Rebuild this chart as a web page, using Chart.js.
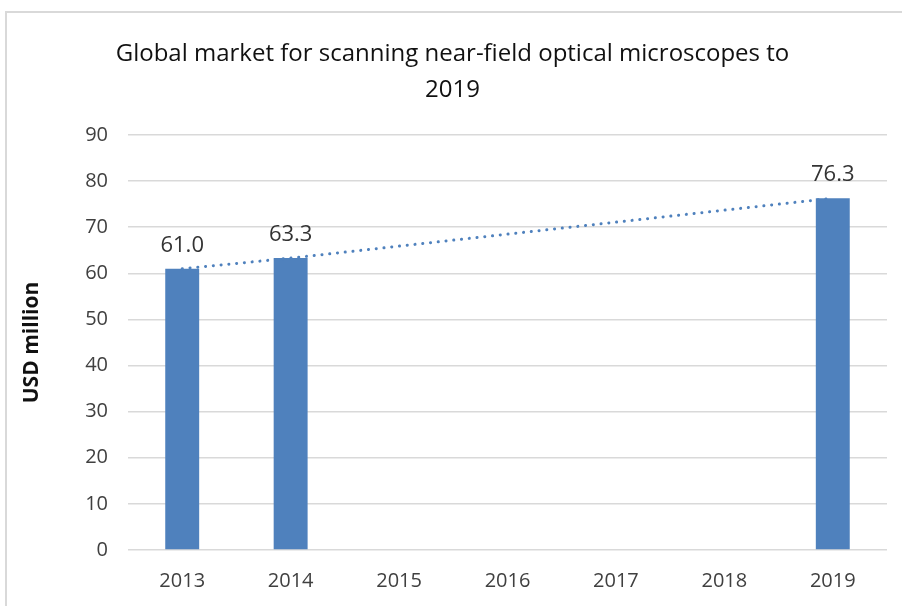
<!DOCTYPE html>
<html>
<head>
<meta charset="utf-8">
<script src="https://cdn.jsdelivr.net/npm/chart.js@4.4.1/dist/chart.umd.min.js"></script>
<style>
    html, body { margin: 0; padding: 0; background: #fff; overflow: hidden; }
    #wrap { position: relative; width: 902px; height: 606px; }
    #frame {
        position: absolute; left: 5px; top: 11px; width: 920px; height: 620px;
        border-left: 2px solid #d9d9d9; border-top: 2px solid #d9d9d9;
    }
    canvas { position: absolute; left: 0; top: 0; }
</style>
</head>
<body>
<div id="wrap">
    <div id="frame"></div>
    <canvas id="myChart" width="902" height="606"></canvas>
</div>
<script>
const years = ['2013', '2014', '2015', '2016', '2017', '2018', '2019'];
const marketValues = [61.0, 63.3, null, null, null, null, 76.3];
const trendValues = [61.0, 63.3, null, null, null, null, 76.3];
const yTicks = [0, 10, 20, 30, 40, 50, 60, 70, 80, 90];

const chartTitle = ['Global market for scanning near-field optical microscopes to', '2019'];
const yTitle = 'USD million';

const FONT = "'Open Sans', 'Liberation Sans', sans-serif";
const BLUE = '#4f81bd';
const TEXT = '#404040';

// etiquetas de valor encima de cada barra
const barLabels = {
    id: 'barLabels',
    afterDatasetsDraw(chart) {
        const ctx = chart.ctx;
        const meta = chart.getDatasetMeta(0);
        ctx.save();
        ctx.font = '22px ' + FONT;
        ctx.fillStyle = '#333333';
        ctx.textAlign = 'center';
        ctx.textBaseline = 'middle';
        meta.data.forEach((bar, i) => {
            const v = marketValues[i];
            if (v === null) return;
            ctx.fillText(v.toFixed(1), bar.x, bar.y - 23);
        });
        ctx.restore();
    }
};

const ctx = document.getElementById('myChart');
new Chart(ctx, {
    type: 'bar',
    data: {
        labels: years,
        datasets: [
            {
                label: 'Market',
                data: marketValues,
                backgroundColor: BLUE,
                borderWidth: 0,
                barPercentage: 0.313,
                categoryPercentage: 1,
                order: 1
            },
            {
                type: 'line',
                label: 'Trend',
                data: trendValues,
                spanGaps: true,
                borderColor: BLUE,
                borderWidth: 3,
                borderDash: [0.1, 7.7],
                borderCapStyle: 'round',
                pointRadius: 0,
                fill: false,
                tension: 0,
                order: 0
            }
        ]
    },
    options: {
        responsive: false,
        animation: false,
        layout: { padding: { left: 18, right: 15, top: 0, bottom: 0 } },
        plugins: {
            legend: { display: false },
            tooltip: { enabled: false },
            title: {
                display: true,
                text: chartTitle,
                color: '#111111',
                font: { family: FONT, size: 24, weight: 'normal', lineHeight: 36 / 24 },
                padding: { top: 36, bottom: 27 }
            }
        },
        scales: {
            x: {
                grid: { display: false, drawTicks: false },
                border: { display: false },
                ticks: {
                    color: TEXT,
                    font: { family: FONT, size: 20 },
                    padding: 19,
                    maxRotation: 0
                },
                afterFit: s => { s.height = 56; }
            },
            y: {
                min: 0,
                max: 90,
                afterBuildTicks: s => { s.ticks = yTicks.map(v => ({ value: v })); },
                grid: { color: '#d9d9d9', lineWidth: 1.5, drawTicks: false },
                border: { display: false },
                ticks: {
                    color: TEXT,
                    font: { family: FONT, size: 20 },
                    padding: 20
                },
                title: {
                    display: true,
                    text: yTitle,
                    color: '#111111',
                    font: { family: FONT, size: 21, weight: 'bold' },
                    padding: { top: 1, bottom: 0 }
                },
                afterFit: s => { s.width = 110; }
            }
        }
    },
    plugins: [barLabels]
});
</script>
</body>
</html>
